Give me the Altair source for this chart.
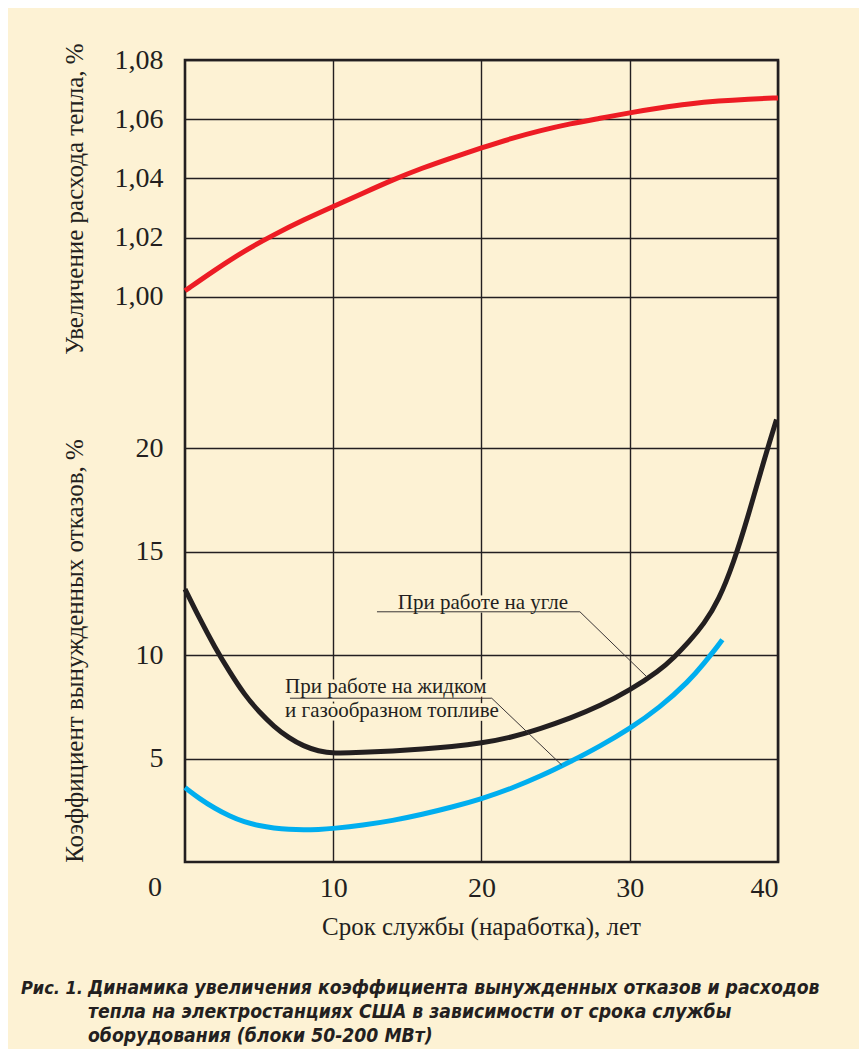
import altair as alt
import pandas as pd

# ---------------- data ----------------
heat_years = [0, 2, 4, 6, 8, 10, 12, 14, 16, 18, 20, 22, 24, 26, 28, 30, 32, 34, 36, 38, 40]
heat_values = [1.002, 1.009, 1.0155, 1.021, 1.026, 1.0305, 1.035, 1.0395, 1.0435, 1.047, 1.0503,
               1.0535, 1.0562, 1.0585, 1.0603, 1.0622, 1.0638, 1.0652, 1.0662, 1.0668, 1.0672]

coal_years = [0, 1, 2, 3, 4, 5, 6, 7, 8, 9, 10, 12, 14, 16, 18, 20, 22, 24, 26, 28, 30, 32, 33,
              34, 35, 36, 37, 38, 39, 39.9]
coal_values = [13.2, 11.75, 10.4, 9.2, 8.1, 7.25, 6.55, 6.0, 5.6, 5.36, 5.25, 5.3, 5.37, 5.46,
               5.58, 5.75, 6.02, 6.45, 6.95, 7.55, 8.3, 9.25, 9.9, 10.65, 11.5, 12.65, 14.45,
               16.75, 19.3, 21.4]

gas_years = [0, 1, 2, 3, 4, 5, 6, 7, 8, 9, 10, 12, 14, 16, 18, 20, 22, 24, 26, 28, 30, 32, 34,
             35, 36, 36.25]
gas_values = [3.6, 3.05, 2.6, 2.22, 1.93, 1.75, 1.64, 1.57, 1.55, 1.57, 1.62, 1.78, 2.0, 2.3,
              2.65, 3.05, 3.55, 4.15, 4.85, 5.6, 6.45, 7.45, 8.75, 9.6, 10.5, 10.75]

top_ticks = [1.00, 1.02, 1.04, 1.06, 1.08]
bottom_ticks = [5, 10, 15, 20]
x_ticks = [10, 20, 30, 40]

label_coal = "При работе на угле"
label_gas = ["При работе на жидком", "и газообразном топливе"]
title_top = "Увеличение расхода тепла, %"
title_bottom = "Коэффициент вынужденных отказов, %"
title_x = "Срок службы (наработка), лет"
caption_num = "Рис. 1."
caption_lines = ["Динамика увеличения коэффициента вынужденных отказов и расходов",
                 "тепла на электростанциях США в зависимости от срока службы",
                 "оборудования (блоки 50-200 МВт)"]

# leader lines (year, value on lower scale)
coal_leader = [(12.95, 12.10), (26.64, 12.10), (31.16, 8.95)]
gas_leader = [(7.08, 7.92), (20.69, 7.92), (25.41, 4.69)]

# ---------------- combined vertical scale ----------------
UNIT = 20.68            # px per unit of lower panel
H = 802
W = 593
YMAX = H / UNIT
TOP0 = (862 - 296.7) / UNIT
K = (YMAX - TOP0) / 0.08

BG = "#FDF2D4"
INK = "#231F20"
SERIF = "Liberation Serif"

rows = []
for x, v in zip(heat_years, heat_values):
    rows.append({"year": x, "value": v, "series": "heat", "panel": "top"})
for x, v in zip(coal_years, coal_values):
    rows.append({"year": x, "value": v, "series": "coal", "panel": "bottom"})
for x, v in zip(gas_years, gas_values):
    rows.append({"year": x, "value": v, "series": "gas", "panel": "bottom"})
df = pd.DataFrame(rows)

y_values = bottom_ticks + [TOP0 + (t - 1.0) * K for t in top_ticks]
label_expr = (f"datum.value > 25 ? replace(format((datum.value - {TOP0})/{K} + 1, '.2f'), '.', ',')"
              f" : format(datum.value, 'd')")

xscale = alt.Scale(domain=[0, 40.001], nice=False, zero=False)
yscale = alt.Scale(domain=[0, YMAX + 0.002], nice=False, zero=False)

base = alt.Chart(df).transform_calculate(
    pos=f"datum.panel == 'top' ? {TOP0} + (datum.value - 1) * {K} : datum.value"
)

lines = base.mark_line(strokeWidth=5, interpolate="basis", strokeCap="butt").encode(
    x=alt.X("year:Q", scale=xscale,
            axis=alt.Axis(values=x_ticks, title=None, grid=True, gridColor=INK, gridWidth=1.4,
                          domain=False, ticks=False, labelFont=SERIF, labelFontSize=28,
                          labelColor=INK, labelPadding=12)),
    y=alt.Y("pos:Q", scale=yscale,
            axis=alt.Axis(values=y_values, labelExpr=label_expr, title=None, grid=True,
                          gridColor=INK, gridWidth=1.4, domain=False, ticks=False,
                          labelFont=SERIF, labelFontSize=28, labelColor=INK, labelPadding=22)),
    color=alt.Color("series:N", legend=None,
                    scale=alt.Scale(domain=["heat", "coal", "gas"],
                                    range=["#ED1C24", INK, "#00AEEF"])),
    detail="series:N",
)

# annotations
ann = pd.DataFrame([
    {"text": label_coal, "year": 20.1, "pos": (862 - 609.3) / UNIT, "anchor": "center"},
    {"text": label_gas[0], "year": 6.75, "pos": (862 - 693.3) / UNIT, "anchor": "left"},
    {"text": label_gas[1], "year": 6.75, "pos": (862 - 716.7) / UNIT, "anchor": "left"},
])
ann_c = ann[ann["anchor"] == "center"]
ann_l = ann[ann["anchor"] == "left"]

def text_layer(d, align, halo):
    kw = dict(font=SERIF, fontSize=21, align=align, baseline="alphabetic", color=INK)
    if halo:
        kw.update(stroke=BG, strokeWidth=7, color=BG)
    return alt.Chart(d).mark_text(**kw).encode(
        x=alt.X("year:Q", scale=xscale), y=alt.Y("pos:Q", scale=yscale), text="text:N")

lead_rows = []
for i, (x, v) in enumerate(coal_leader):
    lead_rows.append({"seg": "coal", "i": i, "year": x, "pos": v})
for i, (x, v) in enumerate(gas_leader):
    lead_rows.append({"seg": "gas", "i": i, "year": x, "pos": v})
leaders = alt.Chart(pd.DataFrame(lead_rows)).mark_line(strokeWidth=1, color="#3a3536").encode(
    x=alt.X("year:Q", scale=xscale), y=alt.Y("pos:Q", scale=yscale),
    detail="seg:N", order="i:Q")

# axis titles and zero label
titles_df = pd.DataFrame([
    {"text": title_top, "pos": (862 - 199) / UNIT},
    {"text": title_bottom, "pos": (862 - 651) / UNIT},
])
ytitles = alt.Chart(titles_df).mark_text(font=SERIF, fontSize=25, angle=270, align="center",
                                          baseline="middle", color=INK).encode(
    x=alt.value(-110), y=alt.Y("pos:Q", scale=yscale), text="text:N")

xtitle = alt.Chart(pd.DataFrame({"text": [title_x], "year": [20]})).mark_text(
    font=SERIF, fontSize=25, align="center", baseline="alphabetic", color=INK).encode(
    x=alt.X("year:Q", scale=xscale), y=alt.value(875), text="text:N")

zero = alt.Chart(pd.DataFrame({"text": ["0"]})).mark_text(
    font=SERIF, fontSize=28, align="center", baseline="top", color=INK, dy=12).encode(
    x=alt.value(-30), y=alt.value(H), text="text:N")

CAP_FONT = "DejaVu Sans Condensed, Liberation Sans"
cap_kw = dict(font=CAP_FONT, fontWeight="bold", fontStyle="italic", align="left",
              baseline="alphabetic", color=INK)
cap1 = alt.Chart(pd.DataFrame({"text": [caption_num]})).mark_text(fontSize=18, **cap_kw).encode(
    x=alt.value(-164), y=alt.value(934), text="text:N")
cap2 = alt.Chart(pd.DataFrame({"text": ["\n".join(caption_lines)]})).mark_text(
    lineBreak="\n", lineHeight=24, fontSize=19.2, **cap_kw).encode(
    x=alt.value(-97), y=alt.value(934), text="text:N")

chart = alt.layer(
    lines,
    text_layer(ann_c, "center", True), text_layer(ann_l, "left", True),
    leaders,
    text_layer(ann_c, "center", False), text_layer(ann_l, "left", False),
    ytitles, xtitle, zero, cap1, cap2,
).properties(
    width=W, height=H,
    autosize=alt.AutoSizeParams(type="none"),
    padding={"left": 177, "top": 52, "right": 81, "bottom": 187},
    background=BG,
).configure_view(stroke=INK, strokeWidth=2.6)

chart.save("out.html", embed_options={"renderer": "svg", "actions": False})
